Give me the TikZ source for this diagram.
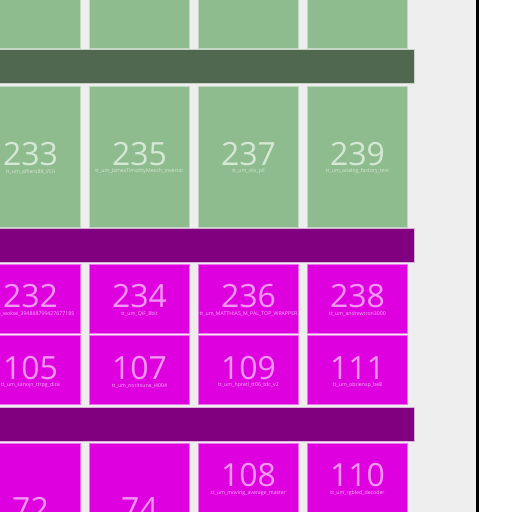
\documentclass[tikz,border=0pt]{standalone}
\usepackage{fontspec}
\setmainfont{Open Sans}
\usetikzlibrary{positioning}
\definecolor{tileGreen}{RGB}{143,188,143}
\definecolor{tileGreenText}{RGB}{212,232,212}
\definecolor{barGreen}{RGB}{79,104,79}
\definecolor{barPurple}{RGB}{128,0,128}
\definecolor{tileMagenta}{RGB}{222,0,222}
\definecolor{tileMagentaText}{RGB}{244,150,244}
\definecolor{pageGray}{RGB}{238,238,238}

\begin{document}
\begin{tikzpicture}[
  x=1pt,y=-1pt,
  every node/.style={inner sep=0pt, outer sep=0pt, align=center},
  gtile/.style={fill=tileGreen, draw=white!45!tileGreen, line width=.6pt, minimum width=100pt},
  mtile/.style={fill=tileMagenta, draw=white!45!tileMagenta, line width=.6pt, minimum width=100pt},
  bar/.style={minimum width=424pt, minimum height=34pt, line width=.8pt},
  gnum/.style={font=\fontsize{32}{32}\selectfont, text=tileGreenText},
  mnum/.style={font=\fontsize{32}{32}\selectfont, text=tileMagentaText},
  glab/.style={font=\fontsize{5.2}{6}\selectfont, text=tileGreenText},
  mlab/.style={font=\fontsize{5.2}{6}\selectfont, text=tileMagentaText!70!white}
]
\clip (0,0) rectangle (512,512);
\fill[pageGray] (0,0) rectangle (475.5,512);
\fill[white] (478.5,0) rectangle (512,512);
\draw[black, line width=3pt] (477,-5) -- (477,517);

% green rows
\node[gtile, minimum height=148pt] (t231) at (30.5,-26) {};
\node[gtile, minimum height=148pt] (t233top) at (139.5,-26) {};
\node[gtile, minimum height=148pt] (t235top) at (248.5,-26) {};
\node[gtile, minimum height=148pt] (t237top) at (357.5,-26) {};

\node[bar, fill=barGreen, draw=white!70!barGreen] (bar1) at (202,66.5) {};

\node[gtile, minimum height=141pt] (t233) at (30.5,156.5) {};
\node[gtile, minimum height=141pt] (t235) at (139.5,156.5) {};
\node[gtile, minimum height=141pt] (t237) at (248.5,156.5) {};
\node[gtile, minimum height=141pt] (t239) at (357.5,156.5) {};
\node[gnum] (n233) at (30.5,154) {233};
\node[gnum] (n235) at (139.5,154) {235};
\node[gnum] (n237) at (248.5,154) {237};
\node[gnum] (n239) at (357.5,154) {239};
\node[glab] (l233) at (30.5,171.5) {tt\_um\_alfiero88\_VCII};
\node[glab] (l235) at (139.5,171.5) {tt\_um\_JamesTimothyMeech\_inverter};
\node[glab] (l237) at (248.5,171.5) {tt\_um\_vks\_pll};
\node[glab] (l239) at (357.5,171.5) {tt\_um\_analog\_factory\_test};

\node[bar, fill=barPurple, draw=white!70!barPurple] (bar2) at (202,245.5) {};

% magenta rows
\node[mtile, minimum height=69pt] (t232) at (30.5,298.5) {};
\node[mtile, minimum height=69pt] (t234) at (139.5,298.5) {};
\node[mtile, minimum height=69pt] (t236) at (248.5,298.5) {};
\node[mtile, minimum height=69pt] (t238) at (357.5,298.5) {};
\node[mnum] (n232) at (30.5,296.5) {232};
\node[mnum] (n234) at (139.5,296.5) {234};
\node[mnum] (n236) at (248.5,296.5) {236};
\node[mnum] (n238) at (357.5,296.5) {238};
\node[mlab] (l232) at (30.5,314) {tt\_um\_wokwi\_394888799427677185};
\node[mlab] (l234) at (139.5,314) {tt\_um\_QIF\_8bit};
\node[mlab] (l236) at (248.5,314) {tt\_um\_MATTHIAS\_M\_PAL\_TOP\_WRAPPER};
\node[mlab] (l238) at (357.5,314) {tt\_um\_andrewtron3000};

\node[mtile, minimum height=69pt] (t105) at (30.5,370) {};
\node[mtile, minimum height=69pt] (t107) at (139.5,370) {};
\node[mtile, minimum height=69pt] (t109) at (248.5,370) {};
\node[mtile, minimum height=69pt] (t111) at (357.5,370) {};
\node[mnum] (n105) at (30.5,368) {105};
\node[mnum] (n107) at (139.5,368) {107};
\node[mnum] (n109) at (248.5,368) {109};
\node[mnum] (n111) at (357.5,368) {111};
\node[mlab] (l105) at (30.5,385.5) {tt\_um\_sanojn\_ttrpg\_dice};
\node[mlab] (l107) at (139.5,385.5) {tt\_um\_noritsuna\_i4004};
\node[mlab] (l109) at (248.5,385.5) {tt\_um\_hpretl\_tt06\_tdc\_v2};
\node[mlab] (l111) at (357.5,385.5) {tt\_um\_obriensp\_be8};

\node[bar, fill=barPurple, draw=white!70!barPurple] (bar3) at (202,424) {};

\node[mtile, minimum height=136pt] (t72) at (30.5,511) {};
\node[mtile, minimum height=136pt] (t74) at (139.5,511) {};
\node[mtile, minimum height=69pt] (t108) at (248.5,477.5) {};
\node[mtile, minimum height=69pt] (t110) at (357.5,477.5) {};
\node[mnum] (n72) at (30.5,509) {72};
\node[mnum] (n74) at (139.5,509) {74};
\node[mnum] (n108) at (248.5,475.5) {108};
\node[mnum] (n110) at (357.5,475.5) {110};
\node[mlab] (l108) at (248.5,493) {tt\_um\_moving\_average\_master};
\node[mlab] (l110) at (357.5,493) {tt\_um\_rgbled\_decoder};
\end{tikzpicture}
\end{document}
